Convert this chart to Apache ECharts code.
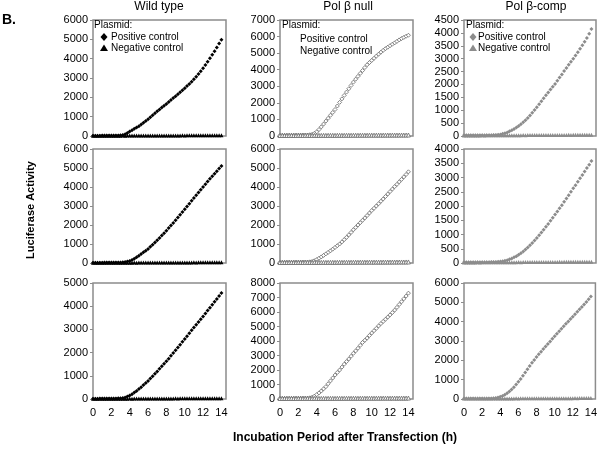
<!DOCTYPE html>
<html>
<head>
<meta charset="utf-8">
<script src="https://cdn.jsdelivr.net/npm/echarts@6/dist/echarts.min.js"></script>
<style>html,body{margin:0;padding:0;background:#fff;}#c{width:600px;height:451px;}</style>
</head>
<body>
<div id="c"></div>
<script>
// ---------- DATA ----------
const hours = [0,0.25,0.5,0.75,1,1.25,1.5,1.75,2,2.25,2.5,2.75,3,3.25,3.5,3.75,4,4.25,4.5,4.75,5,5.25,5.5,5.75,6,6.25,6.5,6.75,7,7.25,7.5,7.75,8,8.25,8.5,8.75,9,9.25,9.5,9.75,10,10.25,10.5,10.75,11,11.25,11.5,11.75,12,12.25,12.5,12.75,13,13.25,13.5,13.75,14];
const columnTitles = ['Wild type', 'Pol \u03b2 null', 'Pol \u03b2-comp'];
const xTicks = [0,2,4,6,8,10,12,14];
const yMaxes = [[6000,7000,4500],[6000,6000,4000],[5000,8000,6000]];
const ySteps = [[1000,1000,500],[1000,1000,500],[1000,1000,1000]];
const legendTitle = 'Plasmid:';
const seriesNames = ['Positive control', 'Negative control'];

// Wild type
const wtPos1 = [15,15,18,18,20,20,22,22,24,25,27,30,35,50,85,150,230,300,370,440,510,600,690,780,870,970,1070,1180,1280,1370,1470,1560,1660,1760,1860,1960,2060,2160,2260,2370,2470,2580,2690,2810,2930,3070,3210,3350,3500,3670,3840,4020,4200,4390,4580,4780,4980];
const wtNeg1 = [12,14,13,15,14,16,15,17,16,18,17,19,18,20,19,21,20,22,21,23,22,24,23,25,24,26,25,27,26,28,27,29,28,30,29,31,30,32,31,33,32,34,33,35,34,36,35,37,36,38,37,39,38,40,39,41,42];
const wtPos2 = [15,16,17,18,18,20,20,22,22,24,25,27,30,40,55,75,100,160,230,300,380,470,560,650,740,850,960,1080,1200,1320,1450,1570,1700,1840,1970,2110,2250,2390,2540,2680,2830,2980,3120,3270,3420,3570,3710,3860,4000,4140,4290,4430,4570,4700,4830,4970,5100];
const wtNeg2 = [10,11,12,11,13,12,14,13,15,14,16,15,17,16,18,17,19,18,20,19,21,20,22,21,23,22,24,23,25,24,26,25,27,26,28,27,29,28,30,29,31,30,32,31,33,32,34,33,35,34,36,35,37,36,38,37,39];
const wtPos3 = [15,15,16,18,18,19,20,21,22,23,25,27,30,45,70,105,150,210,280,350,430,510,600,690,780,880,980,1090,1190,1300,1410,1520,1630,1740,1860,1980,2100,2220,2340,2470,2590,2710,2830,2960,3080,3200,3320,3440,3560,3680,3810,3930,4060,4190,4310,4440,4570];
const wtNeg3 = [8,9,10,9,11,10,12,11,13,12,14,13,15,14,16,15,17,16,18,17,19,18,20,19,21,20,22,21,23,22,24,23,25,24,26,25,27,26,28,27,29,28,30,29,31,30,32,31,33,32,34,33,35,34,36,35,37];

// Pol beta null
const nullPos1 = [40,42,42,44,45,46,48,48,50,52,54,56,60,75,100,160,250,390,550,720,900,1070,1250,1420,1600,1810,2030,2240,2450,2650,2850,3050,3250,3430,3600,3780,3950,4130,4300,4430,4560,4690,4820,4940,5060,5170,5270,5360,5450,5540,5620,5710,5800,5880,5950,6020,6080];
const nullNeg1 = [30,32,31,33,32,34,33,35,34,36,35,37,36,38,37,39,38,40,39,41,40,42,41,43,42,44,43,45,44,46,45,47,46,48,47,49,48,50,49,51,50,52,51,53,52,54,53,55,54,56,55,57,56,58,57,59,60];
const nullPos2 = [35,36,38,38,40,40,42,42,44,45,46,48,50,60,80,120,180,250,320,400,480,560,640,730,820,910,1000,1110,1230,1350,1480,1610,1750,1870,2000,2120,2250,2370,2500,2630,2760,2880,3000,3120,3250,3370,3500,3630,3760,3890,4020,4140,4270,4400,4530,4660,4800];
const nullNeg2 = [25,27,26,28,27,29,28,30,29,31,30,32,31,33,32,34,33,35,34,36,35,37,36,38,37,39,38,40,39,41,40,42,41,43,42,44,43,45,44,46,45,47,46,48,47,49,48,50,49,51,50,52,51,53,52,54,55];
const nullPos3 = [40,40,42,44,44,46,48,48,50,52,54,56,60,80,120,200,300,420,550,700,850,1050,1250,1450,1650,1830,2000,2200,2400,2580,2760,2950,3150,3320,3500,3700,3900,4050,4200,4380,4550,4710,4870,5040,5200,5350,5500,5650,5800,5960,6130,6320,6520,6710,6910,7100,7300];
const nullNeg3 = [35,37,36,38,37,39,38,40,39,41,40,42,41,43,42,44,43,45,44,46,45,47,46,48,47,49,48,50,49,51,50,52,51,53,52,54,53,55,54,56,55,57,56,58,57,59,58,60,59,61,60,62,61,63,62,64,65];

// Pol beta-comp
const compPos1 = [25,25,26,26,27,27,28,28,29,30,30,31,32,34,36,45,60,85,110,140,180,220,270,330,390,460,530,610,700,800,900,1010,1120,1230,1350,1460,1580,1690,1800,1910,2020,2140,2270,2390,2520,2640,2760,2880,3000,3120,3250,3380,3520,3660,3800,3970,4150];
const compNeg1 = [20,21,22,21,23,22,24,23,25,24,26,25,27,26,28,27,29,28,30,29,31,30,32,31,33,32,34,33,35,34,36,35,37,36,38,37,39,38,40,39,41,40,42,41,43,42,44,43,45,44,46,45,47,46,48,47,50];
const compPos2 = [25,25,26,26,27,27,28,28,28,29,30,30,31,32,34,40,50,65,80,100,130,160,200,240,290,340,400,470,540,620,700,790,880,970,1070,1170,1270,1370,1480,1590,1700,1810,1920,2030,2150,2260,2380,2500,2620,2730,2850,2970,3090,3210,3330,3450,3580];
const compNeg2 = [18,19,20,19,21,20,22,21,23,22,24,23,25,24,26,25,27,26,28,27,29,28,30,29,31,30,32,31,33,32,34,33,35,34,36,35,37,36,38,37,39,38,40,39,41,40,42,41,43,42,44,43,45,44,46,45,48];
const compPos3 = [25,25,26,26,27,27,28,28,28,29,29,30,30,40,55,80,115,160,220,295,385,490,610,745,890,1040,1200,1370,1540,1710,1870,2020,2170,2310,2450,2590,2720,2850,2980,3110,3240,3370,3500,3630,3760,3890,4010,4140,4260,4390,4510,4640,4760,4890,5020,5160,5300];
const compNeg3 = [20,22,21,23,22,24,23,25,24,26,25,27,26,28,27,29,28,30,29,31,30,32,31,33,32,34,33,35,34,36,35,37,36,38,37,39,38,40,39,41,40,42,41,43,42,44,43,45,44,46,45,47,46,48,47,49,50];

const panelData = [
  [[wtPos1, wtNeg1], [nullPos1, nullNeg1], [compPos1, compNeg1]],
  [[wtPos2, wtNeg2], [nullPos2, nullNeg2], [compPos2, compNeg2]],
  [[wtPos3, wtNeg3], [nullPos3, nullNeg3], [compPos3, compNeg3]]
];

// ---------- LAYOUT / STYLE ----------
const FONT = "'Liberation Sans', Arial, Helvetica, sans-serif";
const colLeft = [93, 280, 464];
const colWidth = [133, 133, 132];
const rowTop = [20, 149, 283];
const rowHeight = [116, 114, 116];
const X_MAX = 14.5;

const colStyles = [
  { pos: {symbol: 'diamond', size: 4, color: '#000', border: '#000', bw: 0}, neg: {symbol: 'triangle', size: 4, color: '#000', border: '#000', bw: 0} },
  { pos: {symbol: 'diamond', size: 4, color: '#fff', border: '#666', bw: 0.8}, neg: {symbol: 'triangle', size: 4, color: '#fff', border: '#666', bw: 0.8} },
  { pos: {symbol: 'diamond', size: 4, color: '#8c8c8c', border: '#8c8c8c', bw: 0}, neg: {symbol: 'triangle', size: 4, color: '#8c8c8c', border: '#8c8c8c', bw: 0} }
];

const grids = [], xAxes = [], yAxes = [], series = [];
let idx = 0;
for (let r = 0; r < 3; r++) {
  for (let c = 0; c < 3; c++) {
    grids.push({
      left: colLeft[c], top: rowTop[r], width: colWidth[c], height: rowHeight[r],
      show: true, borderColor: '#8c8c8c', borderWidth: 1.5, backgroundColor: '#fff'
    });
    xAxes.push({
      type: 'value', gridIndex: idx, min: 0, max: X_MAX, interval: 2,
      axisLine: {show: false}, axisTick: {show: false}, splitLine: {show: false},
      axisLabel: {
        show: r === 2, color: '#000', fontSize: 11, fontFamily: FONT, margin: 8,
        showMaxLabel: false,
        formatter: v => (xTicks.indexOf(v) >= 0 ? String(v) : '')
      }
    });
    yAxes.push({
      type: 'value', gridIndex: idx, min: 0, max: yMaxes[r][c], interval: ySteps[r][c],
      axisLine: {show: false},
      axisTick: {show: true, length: 3, lineStyle: {color: '#8c8c8c', width: 1}},
      splitLine: {show: false},
      axisLabel: {color: '#000', fontSize: 11, fontFamily: FONT, margin: 5, showMaxLabel: true, showMinLabel: true,
                  formatter: v => String(v)}
    });
    const [pos, neg] = panelData[r][c];
    const st = colStyles[c];
    [[pos, st.pos, seriesNames[0]], [neg, st.neg, seriesNames[1]]].forEach(([arr, s, nm]) => {
      series.push({
        type: 'scatter', name: nm, xAxisIndex: idx, yAxisIndex: idx,
        symbol: s.symbol, symbolSize: s.size, silent: true,
        itemStyle: {color: s.color, borderColor: s.border, borderWidth: s.bw, opacity: 1},
        data: hours.map((h, i) => [h, arr[i]])
      });
    });
    idx++;
  }
}

// legend & text graphics
const graphics = [];
function txt(x, y, text, font, align, extra) {
  return Object.assign({type: 'text', x: x, y: y, silent: true,
    style: {text: text, font: font, fill: '#000', align: align || 'left', verticalAlign: 'middle',
            textAlign: align || 'left', textVerticalAlign: 'middle'}}, extra || {});
}
function diamond(cx, cy, fill) {
  return {type: 'polygon', silent: true, shape: {points: [[cx, cy-4], [cx+3.5, cy], [cx, cy+4], [cx-3.5, cy]]}, style: {fill: fill}};
}
function triangle(cx, cy, fill) {
  return {type: 'polygon', silent: true, shape: {points: [[cx, cy-3.5], [cx+4, cy+3], [cx-4, cy+3]]}, style: {fill: fill}};
}
const LF = '10px ' + FONT;
// column 1 legend
graphics.push(txt(94, 25, legendTitle, LF));
graphics.push(diamond(104, 37, '#000'));
graphics.push(txt(111, 37, seriesNames[0], LF));
graphics.push(triangle(104, 48, '#000'));
graphics.push(txt(111, 48, seriesNames[1], LF));
// column 2 legend (markers invisible)
graphics.push(txt(282, 25, legendTitle, LF));
graphics.push(txt(300, 39, seriesNames[0], LF));
graphics.push(txt(300, 51, seriesNames[1], LF));
// column 3 legend
graphics.push(txt(466, 25, legendTitle, LF));
graphics.push(diamond(473, 37, '#8c8c8c'));
graphics.push(txt(478, 37, seriesNames[0], LF));
graphics.push(triangle(473, 48, '#8c8c8c'));
graphics.push(txt(478, 48, seriesNames[1], LF));

// titles
graphics.push(txt(2, 20, 'B.', 'bold 14px ' + FONT, 'left'));
const titleX = [159, 348, 536];
columnTitles.forEach((t, i) => graphics.push(txt(titleX[i], 7, t, '12px ' + FONT, 'center')));
graphics.push(txt(31, 210, 'Luciferase Activity', 'bold 11px ' + FONT, 'center', {rotation: Math.PI / 2}));
graphics.push(txt(345, 438, 'Incubation Period after Transfection (h)', 'bold 12px ' + FONT, 'center'));

const chart = echarts.init(document.getElementById('c'), null, {renderer: 'canvas'});
chart.setOption({
  backgroundColor: '#fff',
  animation: false,
  grid: grids,
  xAxis: xAxes,
  yAxis: yAxes,
  series: series,
  graphic: graphics
});
</script>
</body>
</html>
